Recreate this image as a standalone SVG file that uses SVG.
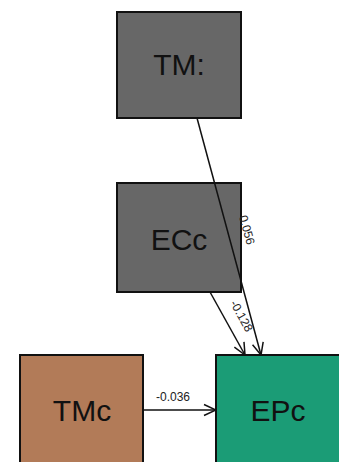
<svg xmlns="http://www.w3.org/2000/svg" width="339" height="462" viewBox="0 0 339 462">
  <style>
    .box { stroke: #111; stroke-width: 2; }
    .lbl { font-family: "Liberation Sans", Arial, sans-serif; font-size: 30px; fill: #111; text-anchor: middle; }
    .coef { font-family: "Liberation Sans", Arial, sans-serif; font-size: 12px; fill: #222; text-anchor: middle; }
    .edge { stroke: #111; stroke-width: 1.5; fill: none; marker-end: url(#vee); }
  </style>
  <defs>
    <marker id="vee" viewBox="0 0 14 14" refX="13" refY="7" markerWidth="14" markerHeight="14" markerUnits="userSpaceOnUse" orient="auto">
      <path d="M1,1.5 L13,7 L1,12.5" fill="none" stroke="#111" stroke-width="1.5"/>
    </marker>
  </defs>
  <rect width="339" height="462" fill="#fff"/>

  <g id="node-TM">
    <rect class="box" x="117" y="12" width="124" height="106" fill="#676767"/>
    <text class="lbl" x="179" y="75">TM:</text>
  </g>
  <g id="node-ECc">
    <rect class="box" x="117" y="183" width="124" height="109" fill="#676767"/>
    <text class="lbl" x="179" y="250">ECc</text>
  </g>
  <g id="node-TMc">
    <rect class="box" x="20" y="355" width="123" height="115" fill="#b27b58"/>
    <text class="lbl" x="82" y="421">TMc</text>
  </g>
  <g id="node-EPc">
    <rect class="box" x="216" y="355" width="124" height="115" fill="#1b9c76"/>
    <text class="lbl" x="278" y="421">EPc</text>
  </g>

  <g id="connectors">
    <line class="edge" x1="197" y1="118" x2="261" y2="355"/>
    <text class="coef" transform="translate(243,231) rotate(74.9)">0.056</text>
    <line class="edge" x1="210" y1="292" x2="245" y2="355"/>
    <text class="coef" transform="translate(238,318) rotate(61)">-0.128</text>
    <line class="edge" x1="143" y1="410" x2="216" y2="410"/>
    <text class="coef" x="173" y="401">-0.036</text>
  </g>
</svg>
